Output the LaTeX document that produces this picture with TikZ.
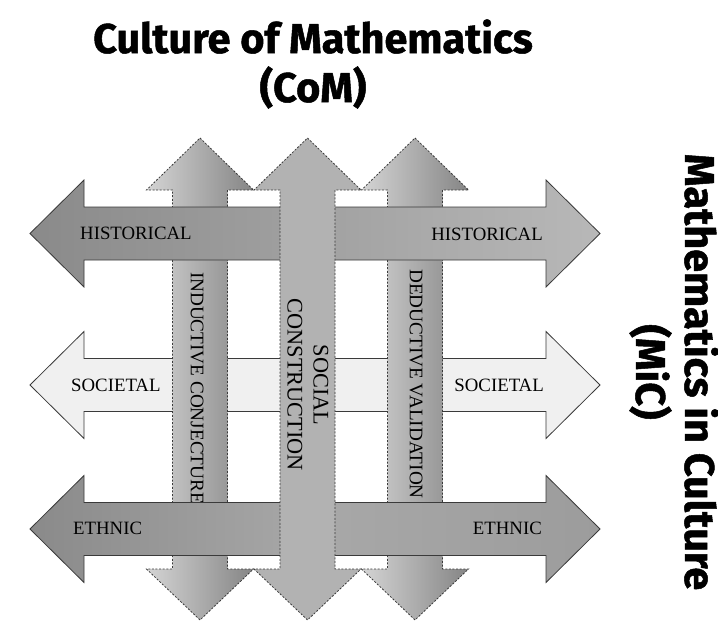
\documentclass[tikz,border=0pt]{standalone}
\usepackage{fontspec}
\newfontfamily\headfont{Fira Sans}[BoldFeatures={FakeBold=1.2}]
\newfontfamily\labelfont{Liberation Serif}
\definecolor{axisdark}{HTML}{8A8A8A}
\definecolor{axislight}{HTML}{B8B8B8}
\definecolor{axismid}{HTML}{A8A8A8}
\definecolor{axisend}{HTML}{9C9C9C}
\definecolor{societyfill}{HTML}{F0F0F0}
\definecolor{proclight}{HTML}{D4D4D4}
\definecolor{procdark}{HTML}{858585}
\definecolor{corefill}{HTML}{B2B2B2}
\definecolor{edgegray}{HTML}{3A3A3A}

\begin{document}
\begin{tikzpicture}[
    x=1pt, y=-1pt,
    axisedge/.style={draw=edgegray, line width=0.8pt},
    procedge/.style={draw=edgegray, line width=0.8pt, dash pattern=on 2pt off 1.6pt},
    histshade/.style={axisedge, left color=axisdark, right color=axislight},
    ethnshade/.style={axisedge, left color=axisdark, right color=axisend, middle color=axismid},
    socfill/.style={axisedge, fill=societyfill},
    procshade/.style={procedge, left color=proclight, right color=procdark},
    corefillst/.style={procedge, fill=corefill},
    axistext/.style={font=\labelfont\fontsize{18.8}{20}\selectfont, text=black, inner sep=0pt},
    proctext/.style={font=\labelfont\fontsize{19.2}{20}\selectfont, text=black, inner sep=0pt, rotate=-90},
    coretext/.style={font=\labelfont\fontsize{22.3}{26}\selectfont, text=black, inner sep=0pt, rotate=-90, align=center},
    headtext/.style={font=\headfont\bfseries\fontsize{41.5}{49}\selectfont, inner sep=0pt},
]
\useasboundingbox[fill=white] (0,0) rectangle (718,621);

% Headings
\node[headtext, anchor=base] (com) at (313,53) {Culture of Mathematics};
\node[headtext, anchor=base] (com-abbr) at (313,102) {(CoM)};
\node[headtext, anchor=base, rotate=-90] (mic) at (685,372) {Mathematics in Culture};
\node[headtext, anchor=base, rotate=-90] (mic-abbr) at (636,372) {(MiC)};

% Societal axis (lowest layer)
\path[socfill] (30,385) -- ++(54,-53.5) -- ++(0,27) -- ++(462,0) -- ++(0,-27) -- ++(54,53.5)
  -- ++(-54,53.5) -- ++(0,-27) -- ++(-462,0) -- ++(0,27) -- cycle;
\node[axistext, anchor=west] (soc-l) at (71,385) {SOCIETAL};
\node[axistext, anchor=east] (soc-r) at (544,385) {SOCIETAL};

% Inductive and deductive processes
\path[procshade] (200,138) -- ++(53.5,52) -- ++(-26,0) -- ++(0,379) -- ++(26,0) -- ++(-53.5,51)
  -- ++(-53.5,-51) -- ++(26,0) -- ++(0,-379) -- ++(-26,0) -- cycle;
\node[proctext] (induct) at (197,388) {INDUCTIVE CONJECTURE};
\path[procshade] (415,138) -- ++(53.5,52) -- ++(-26,0) -- ++(0,379) -- ++(26,0) -- ++(-53.5,51)
  -- ++(-53.5,-51) -- ++(26,0) -- ++(0,-379) -- ++(-26,0) -- cycle;
\node[proctext] (deduct) at (416,384) {DEDUCTIVE VALIDATION};

% Historical and ethnic axes
\path[histshade] (30,233.5) -- ++(54,-53.5) -- ++(0,27) -- ++(462,0) -- ++(0,-27) -- ++(54,53.5)
  -- ++(-54,53.5) -- ++(0,-27) -- ++(-462,0) -- ++(0,27) -- cycle;
\node[axistext, anchor=west] (hist-l) at (80,233.5) {HISTORICAL};
\node[axistext, anchor=east] (hist-r) at (543,234.5) {HISTORICAL};
\path[ethnshade] (30,529) -- ++(54,-53.5) -- ++(0,27) -- ++(462,0) -- ++(0,-27) -- ++(54,53.5)
  -- ++(-54,53.5) -- ++(0,-27) -- ++(-462,0) -- ++(0,27) -- cycle;
\node[axistext, anchor=west] (eth-l) at (73,528.5) {ETHNIC};
\node[axistext, anchor=east] (eth-r) at (542,528.5) {ETHNIC};

% Social construction (top layer)
\path[corefillst] (307.5,138) -- ++(53.5,52) -- ++(-26,0) -- ++(0,379) -- ++(26,0) -- ++(-53.5,51)
  -- ++(-53.5,-51) -- ++(26,0) -- ++(0,-379) -- ++(-26,0) -- cycle;
\node[coretext] (social) at (308,385) {SOCIAL\\CONSTRUCTION};

\end{tikzpicture}
\end{document}
